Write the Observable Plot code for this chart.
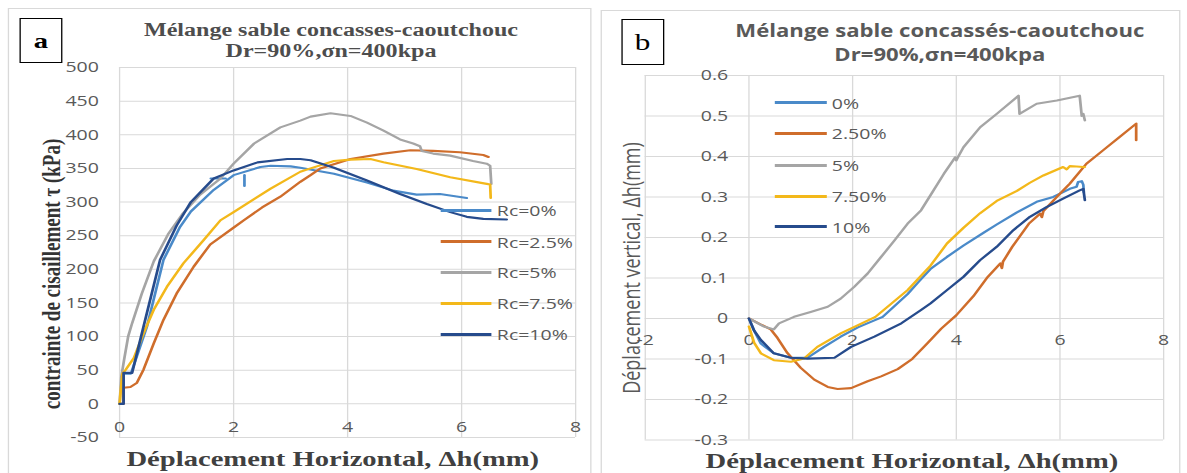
<!DOCTYPE html>
<html><head><meta charset="utf-8">
<script src="https://cdn.jsdelivr.net/npm/d3@7"></script>
<script src="https://cdn.jsdelivr.net/npm/@observablehq/plot@0.6"></script>
<style>
body{margin:0;background:#fff;}
#wrap{position:relative;width:913px;height:473px;transform:scaleX(1.3);transform-origin:0 0;overflow:hidden;background:#fff;}
.frame{position:absolute;border:1px solid #d9d9d9;box-sizing:border-box;}
.box{position:absolute;border:1.5px solid #000;box-sizing:border-box;display:flex;align-items:center;justify-content:center;font-family:"Liberation Serif";color:#000;background:#fff;}
.title{position:absolute;text-align:center;white-space:nowrap;transform:translateX(-50%);}
.rot{position:absolute;white-space:nowrap;transform:translate(-50%,-50%) rotate(-90deg);}
.chart{position:absolute;top:0;}
.leg{position:absolute;display:flex;align-items:center;height:20px;transform:translateY(-50%);font-family:"Open Sans";font-size:15px;color:#595959;white-space:nowrap;}
.leg span.l{display:inline-block;width:39.7px;height:3px;margin-right:4px;}
.ta{font-family:'Liberation Serif';font-weight:bold;font-size:18.5px;line-height:20.5px;color:#4d4d4d;}
</style>
</head><body>
<div id="wrap">
  <div class="frame" style="left:6.2px;top:8px;width:448.5px;height:470px;"></div>
  <div class="frame" style="left:462.3px;top:10px;width:446px;height:470px;"></div>
  <div id="chartA" class="chart" style="left:0px;"></div>
  <div id="chartB" class="chart" style="left:461.5px;"></div>
  <div class="box" style="left:14.6px;top:18px;width:33.8px;height:45px;font-size:22px;font-weight:bold;">a</div>
  <div class="box" style="left:477.7px;top:19px;width:33px;height:46px;font-size:24px;">b</div>
  <div class="title ta" style="left:254.6px;top:19.5px;">Mélange sable concasses-caoutchouc</div>
  <div class="title ta" style="left:254.6px;top:41px;">Dr=90%,σn=400kpa</div>
  <div class="title" style="left:723px;top:19px;font-family:'Open Sans';font-weight:bold;font-size:17px;line-height:24px;color:#595959;">Mélange sable concassés-caoutchouc<br>Dr=90%,σn=400kpa</div>
  <div class="title" style="left:256px;top:447.6px;font-family:'Liberation Serif';font-weight:bold;font-size:22px;line-height:22px;color:#404040;">Déplacement Horizontal, Δh(mm)</div>
  <div class="title" style="left:701.5px;top:449.6px;font-family:'Liberation Serif';font-weight:bold;font-size:22px;line-height:22px;color:#404040;">Déplacement Horizontal, Δh(mm)</div>
  <div class="rot" style="left:40px;top:274px;font-family:'Liberation Serif';font-weight:bold;font-size:19px;color:#333;">contrainte de cisaillement τ (kPa)</div>
  <div class="rot" style="left:484.6px;top:268px;font-family:'Open Sans';font-size:18px;color:#595959;">Déplacement vertical, Δh(mm)</div>
  <div id="legA"></div>
  <div id="legB"></div>
</div>
<script>
// ---------- Panel a : shear stress vs horizontal displacement ----------
const seriesA = ["Rc=0%", "Rc=2.5%", "Rc=5%", "Rc=7.5%", "Rc=10%"];
const xTicksA = [0, 2, 4, 6, 8];
const xLabelsA = ["0", "2", "4", "6", "8"];
const yTicksA = [-50, 0, 50, 100, 150, 200, 250, 300, 350, 400, 450, 500];
const yLabelsA = ["-50", "0", "50", "100", "150", "200", "250", "300", "350", "400", "450", "500"];

const a0x = [0, 0.07, 0.07, 0.2, 0.48, 0.77, 1.06, 1.25, 1.65, 2.0, 2.47, 2.65, 3.0, 3.17, 3.76, 4.34, 4.8, 5.21, 5.62, 6.09];
const a0y = [0, 0, 45, 45, 115, 214, 263, 286, 318, 340, 352, 354, 353, 351, 342, 329, 317, 311, 312, 306];
const a0g1x = [1.6, 1.86];
const a0g1y = [335, 335];
const a0g2x = [2.19, 2.19];
const a0g2y = [340, 324];
const a25x = [0, 0.07, 0.07, 0.19, 0.3, 0.42, 0.6, 0.77, 1.0, 1.3, 1.59, 2.0, 2.18, 2.5, 2.82, 3.17, 3.35, 3.52, 4.05, 4.63, 5.1, 5.5, 5.97, 6.38, 6.47];
const a25y = [0, 0, 24, 25, 31, 51, 90, 125, 164, 204, 237, 262, 273, 292, 308, 330, 340, 350, 364, 372, 377, 376, 374, 370, 367];
const a5x = [0, 0.03, 0.08, 0.15, 0.22, 0.39, 0.6, 0.85, 1.1, 1.4, 1.77, 2.0, 2.36, 2.82, 3.17, 3.35, 3.7, 4.05, 4.34, 4.63, 4.92, 5.15, 5.27, 5.3, 5.5, 5.8, 6.2, 6.44, 6.5, 6.52];
const a5y = [0, 40, 66, 100, 120, 164, 212, 252, 282, 310, 335, 357, 387, 411, 421, 427, 432, 428, 418, 406, 393, 387, 383, 376, 372, 369, 361, 357, 354, 327];
const a75x = [0, 0.02, 0.05, 0.1, 0.25, 0.42, 0.6, 0.83, 1.12, 1.47, 1.77, 2.0, 2.65, 3.17, 3.35, 3.76, 4.05, 4.4, 4.63, 5.21, 5.8, 6.44, 6.5, 6.51];
const a75y = [0, 20, 45, 50, 68, 105, 140, 174, 209, 243, 273, 285, 320, 345, 350, 361, 363, 364, 359, 349, 337, 327, 326, 306];
const a10x = [0, 0.07, 0.07, 0.22, 0.42, 0.71, 1.0, 1.25, 1.65, 2.0, 2.42, 2.94, 3.17, 3.35, 3.76, 4.34, 4.92, 5.39, 5.8, 6.09, 6.38, 6.79];
const a10y = [0, 0, 46, 46, 115, 214, 265, 300, 335, 347, 359, 364, 364, 362, 351, 332, 312, 297, 285, 278, 275, 274];

// ---------- Panel b : vertical vs horizontal displacement ----------
const seriesB = ["0%", "2.50%", "5%", "7.50%", "10%"];
const xTicksB = [-2, 0, 2, 4, 6, 8];
const xLabelsB = ["-2", "0", "2", "4", "6", "8"];
const yTicksB = [-0.3, -0.2, -0.1, 0, 0.1, 0.2, 0.3, 0.4, 0.5, 0.6];
const yLabelsB = ["-0.3", "-0.2", "-0.1", "0", "0.1", "0.2", "0.3", "0.4", "0.5", "0.6"];

const b0x = [0, 0.1, 0.23, 0.48, 0.81, 1.13, 1.45, 1.77, 2.1, 2.58, 3.06, 3.27, 3.5, 3.82, 4.14, 4.53, 4.78, 5.17, 5.55, 5.87, 6.19, 6.32, 6.35, 6.42, 6.45, 6.46];
const b0y = [0, -0.03, -0.062, -0.086, -0.097, -0.097, -0.07, -0.045, -0.022, 0.004, 0.06, 0.09, 0.122, 0.152, 0.18, 0.212, 0.232, 0.262, 0.288, 0.3, 0.32, 0.325, 0.337, 0.339, 0.33, 0.312];
const b25x = [0, 0.23, 0.42, 0.55, 0.74, 1.0, 1.26, 1.52, 1.71, 1.97, 2.29, 2.55, 2.87, 3.15, 3.45, 3.71, 4.0, 4.33, 4.59, 4.85, 4.88, 4.9, 5.08, 5.4, 5.62, 5.65, 5.68, 5.94, 6.19, 6.51, 6.83, 7.15, 7.47, 7.47];
const b25y = [0, -0.015, -0.027, -0.048, -0.085, -0.122, -0.151, -0.169, -0.174, -0.172, -0.155, -0.143, -0.125, -0.1, -0.06, -0.025, 0.008, 0.055, 0.1, 0.136, 0.124, 0.14, 0.177, 0.234, 0.259, 0.25, 0.265, 0.3, 0.333, 0.382, 0.415, 0.448, 0.481, 0.44];
const b5x = [0, 0.29, 0.48, 0.58, 0.87, 1.19, 1.52, 1.77, 2.03, 2.29, 2.55, 2.81, 3.06, 3.32, 3.52, 3.76, 3.98, 4.0, 4.04, 4.14, 4.46, 4.78, 5.2, 5.22, 5.55, 5.94, 6.38, 6.42, 6.45, 6.48];
const b5y = [0, -0.02, -0.027, -0.012, 0.004, 0.016, 0.029, 0.049, 0.078, 0.111, 0.152, 0.193, 0.234, 0.267, 0.308, 0.357, 0.398, 0.39, 0.4, 0.423, 0.472, 0.505, 0.55, 0.505, 0.53, 0.538, 0.55, 0.5, 0.505, 0.489];
const b75x = [0, 0.1, 0.23, 0.48, 0.81, 1.06, 1.32, 1.77, 2.44, 3.06, 3.5, 3.82, 4.14, 4.46, 4.78, 5.17, 5.42, 5.68, 6.06, 6.13, 6.19, 6.32, 6.45, 6.48];
const b75y = [-0.02, -0.06, -0.086, -0.103, -0.107, -0.099, -0.07, -0.037, 0.004, 0.07, 0.13, 0.185, 0.224, 0.26, 0.29, 0.315, 0.335, 0.353, 0.374, 0.368, 0.376, 0.375, 0.374, 0.374];
const b10x = [0, 0.1, 0.23, 0.48, 0.81, 1.13, 1.65, 1.97, 2.42, 2.94, 3.32, 3.5, 3.82, 4.14, 4.46, 4.78, 5.1, 5.42, 5.74, 6.06, 6.38, 6.45, 6.48];
const b10y = [0, -0.03, -0.053, -0.086, -0.097, -0.099, -0.097, -0.07, -0.045, -0.012, 0.021, 0.037, 0.07, 0.103, 0.144, 0.177, 0.218, 0.251, 0.275, 0.296, 0.316, 0.32, 0.292];

// ---------- styles ----------
const palette = ["#4a8ac9", "#cf6d2b", "#a5a5a5", "#f3b81a", "#264b8c"];

function rows(series, parts) {
  const out = [];
  parts.forEach(([si, key, xs, ys]) => xs.forEach((x, j) => out.push({series: series[si], key, x, y: ys[j]})));
  return out;
}
const rowsA = rows(seriesA, [
  [0, "a0", a0x, a0y], [0, "a0g1", a0g1x, a0g1y], [0, "a0g2", a0g2x, a0g2y],
  [1, "a25", a25x, a25y], [2, "a5", a5x, a5y], [3, "a75", a75x, a75y], [4, "a10", a10x, a10y]
]);
const rowsB = rows(seriesB, [
  [0, "b0", b0x, b0y], [1, "b25", b25x, b25y], [2, "b5", b5x, b5y], [3, "b75", b75x, b75y], [4, "b10", b10x, b10y]
]);

const gridStyle = {stroke: "#d9d9d9", strokeOpacity: 1, strokeWidth: 1};
const tickText = {fill: "#595959", fontSize: 15};

const chartA = Plot.plot({
  width: 458, height: 473,
  marginLeft: 91.5, marginRight: 15.7, marginTop: 67, marginBottom: 36,
  x: {domain: [0, 8], axis: null},
  y: {domain: [-50, 500], axis: null},
  color: {domain: seriesA, range: palette},
  style: {fontFamily: "Open Sans", fontSize: "15px", background: "transparent", overflow: "visible"},
  marks: [
    Plot.gridX(xTicksA, gridStyle),
    Plot.gridY(yTicksA, gridStyle),
    Plot.text(yTicksA, {x: () => 0, y: d => d, text: (d, i) => yLabelsA[i], textAnchor: "end", dx: -16, ...tickText}),
    Plot.text(xTicksA, {x: d => d, y: () => 0, text: (d, i) => xLabelsA[i], dy: 23, ...tickText}),
    Plot.line(rowsA, {x: "x", y: "y", z: "key", stroke: "series", strokeWidth: 2.1, strokeLinejoin: "round"})
  ]
});
document.getElementById("chartA").appendChild(chartA);

const chartB = Plot.plot({
  width: 452, height: 473,
  marginLeft: 33.9, marginRight: 18.9, marginTop: 75, marginBottom: 33,
  x: {domain: [-2, 8], axis: null},
  y: {domain: [-0.3, 0.6], axis: null},
  color: {domain: seriesB, range: palette},
  style: {fontFamily: "Open Sans", fontSize: "15px", background: "transparent", overflow: "visible"},
  marks: [
    Plot.gridX(xTicksB, gridStyle),
    Plot.gridY(yTicksB, gridStyle),
    Plot.text(yTicksB, {x: () => 0, y: d => d, text: (d, i) => yLabelsB[i], textAnchor: "end", dx: -16, ...tickText}),
    Plot.text(xTicksB, {x: d => d, y: () => 0, text: (d, i) => xLabelsB[i], dy: 22, ...tickText}),
    Plot.line(rowsB, {x: "x", y: "y", z: "key", stroke: "series", strokeWidth: 2.1, strokeLinejoin: "round"})
  ]
});
document.getElementById("chartB").appendChild(chartB);

// ---------- legends ----------
function legend(id, series, left, tops) {
  const el = document.getElementById(id);
  series.forEach((s, i) => {
    const d = document.createElement("div");
    d.className = "leg";
    d.style.left = left + "px";
    d.style.top = tops[i] + "px";
    d.innerHTML = `<span class="l" style="background:${palette[i]}"></span>${s}`;
    el.appendChild(d);
  });
}
legend("legA", seriesA, 338.5, [210, 241.5, 272, 303, 334]);
legend("legB", seriesB, 596.2, [102.7, 133.3, 165, 196, 226.7]);
</script>
</body></html>
